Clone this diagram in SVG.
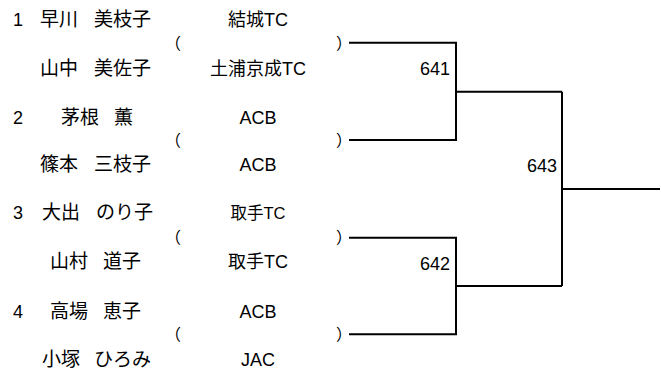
<svg xmlns="http://www.w3.org/2000/svg" width="661" height="371" viewBox="0 0 661 371">
<style>
text{font-family:"Liberation Sans","Noto Sans CJK JP",sans-serif;font-size:18px;fill:#000}
.n{font-size:19px}
.c{text-anchor:middle}
.s{font-size:16.5px}
.r{text-anchor:end}
.p{font-family:"Noto Sans CJK JP",sans-serif;font-size:16px}
.ln{fill:none;stroke:#000;stroke-width:2}
</style>
<rect width="661" height="371" fill="#fff"/>
<g id="match1">
<text x="13" y="26">1</text><text class="n" x="40" y="26">早川</text><text class="n" x="94" y="26">美枝子</text>
<text class="n" x="40" y="75">山中</text><text class="n" x="94" y="75">美佐子</text>
<text class="c" x="258" y="26">結城TC</text><text class="c" x="258" y="75">土浦京成TC</text>
<text class="p" x="165" y="49">（</text><text class="p" x="336" y="49">）</text>
</g>
<g id="match2">
<text x="13" y="124">2</text><text class="n" x="61" y="124">茅根</text><text class="n" x="114" y="124">薫</text>
<text class="n" x="40" y="171">篠本</text><text class="n" x="94" y="171">三枝子</text>
<text class="c" x="258" y="124">ACB</text><text class="c" x="258" y="171">ACB</text>
<text class="p" x="165" y="146">（</text><text class="p" x="336" y="146">）</text>
</g>
<g id="match3">
<text x="13" y="219">3</text><text class="n" x="42" y="219">大出</text><text class="n" x="96" y="219">のり子</text>
<text class="n" x="50" y="268">山村</text><text class="n" x="103" y="268">道子</text>
<text class="c s" x="258" y="219">取手TC</text><text class="c" x="258" y="268">取手TC</text>
<text class="p" x="165" y="243">（</text><text class="p" x="336" y="243">）</text>
</g>
<g id="match4">
<text x="13" y="318">4</text><text class="n" x="50" y="318">高場</text><text class="n" x="103" y="318">恵子</text>
<text class="n" x="42" y="366">小塚</text><text class="n" x="94" y="366">ひろみ</text>
<text class="c" x="258" y="318">ACB</text><text class="c" x="258" y="366">JAC</text>
<text class="p" x="165" y="340">（</text><text class="p" x="336" y="340">）</text>
</g>
<g id="labels">
<text class="r" x="450" y="75">641</text>
<text class="r" x="450" y="270">642</text>
<text class="r" x="557" y="172">643</text>
</g>
<g id="connectors">
<path class="ln" d="M349 42.7H456V140H349M456 91.7H562M349 237.7H456V334.3H349M456 286H562M562 91.7V286M562 189H660"/>
</g>
</svg>
